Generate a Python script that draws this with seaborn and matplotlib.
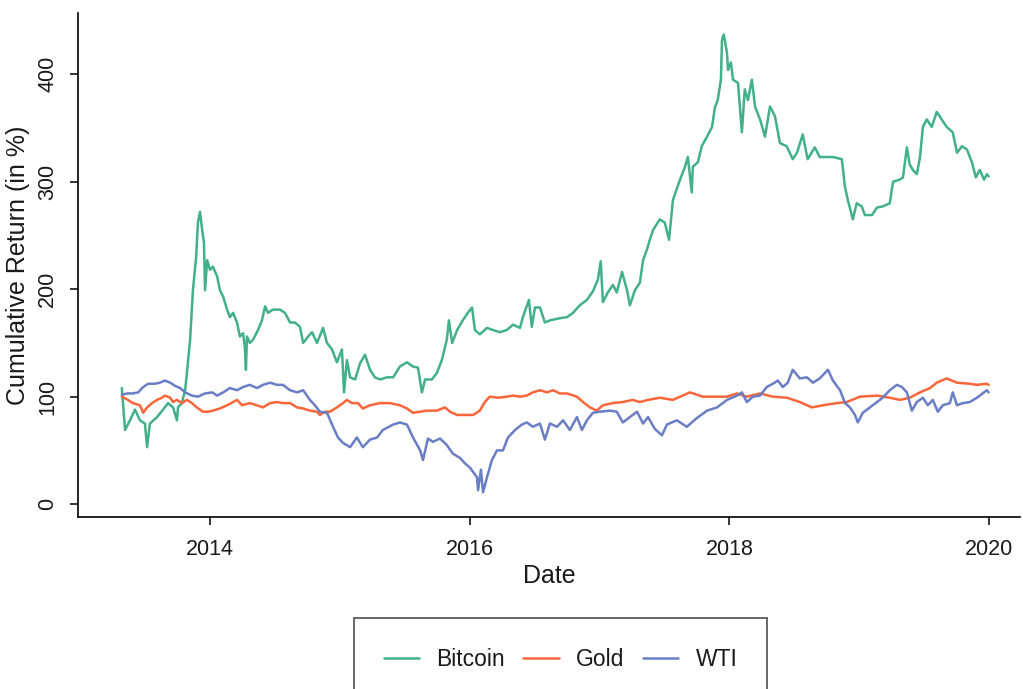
import pandas as pd
import numpy as np
import matplotlib
matplotlib.use("Agg")
import matplotlib.pyplot as plt
import matplotlib.dates as mdates
import seaborn as sns

# ── DATA ───────────────────────────────────────────────────────
btc = [
    ("2013-04-28", 108), ("2013-05-07", 69), ("2013-05-21", 78), ("2013-06-04", 88),
    ("2013-06-18", 78), ("2013-07-02", 75), ("2013-07-08", 53), ("2013-07-16", 75),
    ("2013-08-05", 81), ("2013-08-22", 88), ("2013-09-05", 94), ("2013-09-19", 90),
    ("2013-09-30", 78), ("2013-10-03", 90), ("2013-10-14", 94), ("2013-10-23", 106),
    ("2013-10-28", 122), ("2013-11-06", 153), ("2013-11-14", 199), ("2013-11-23", 230),
    ("2013-11-28", 262), ("2013-12-04", 272), ("2013-12-10", 255), ("2013-12-15", 243),
    ("2013-12-18", 199), ("2013-12-24", 227), ("2014-01-01", 218), ("2014-01-09", 221),
    ("2014-01-21", 212), ("2014-01-29", 199), ("2014-02-07", 193), ("2014-02-18", 181),
    ("2014-02-26", 174), ("2014-03-07", 178), ("2014-03-18", 169), ("2014-03-26", 156),
    ("2014-04-04", 159), ("2014-04-09", 146), ("2014-04-12", 125), ("2014-04-15", 156),
    ("2014-04-23", 150), ("2014-05-02", 153), ("2014-05-16", 162), ("2014-05-27", 171),
    ("2014-06-05", 184), ("2014-06-13", 178), ("2014-06-27", 181), ("2014-07-17", 181),
    ("2014-07-31", 178), ("2014-08-14", 169), ("2014-08-28", 169), ("2014-09-11", 165),
    ("2014-09-20", 150), ("2014-10-04", 156), ("2014-10-15", 160), ("2014-10-29", 150),
    ("2014-11-15", 164), ("2014-11-26", 150), ("2014-12-10", 144), ("2014-12-24", 132),
    ("2015-01-07", 144), ("2015-01-13", 104), ("2015-01-21", 134), ("2015-01-30", 118),
    ("2015-02-13", 116), ("2015-02-27", 131), ("2015-03-13", 139), ("2015-03-27", 125),
    ("2015-04-10", 118), ("2015-04-24", 116), ("2015-05-14", 118), ("2015-05-31", 118),
    ("2015-06-19", 128), ("2015-07-09", 132), ("2015-07-26", 128), ("2015-08-09", 127),
    ("2015-08-20", 104), ("2015-08-29", 116), ("2015-09-17", 116), ("2015-10-01", 122),
    ("2015-10-15", 134), ("2015-10-29", 153), ("2015-11-04", 171), ("2015-11-13", 150),
    ("2015-11-27", 162), ("2015-12-13", 171), ("2015-12-27", 178), ("2016-01-08", 183),
    ("2016-01-16", 162), ("2016-01-30", 158), ("2016-02-19", 164), ("2016-03-07", 162),
    ("2016-03-26", 160), ("2016-04-15", 162), ("2016-05-02", 167), ("2016-05-22", 164),
    ("2016-05-30", 174), ("2016-06-16", 190), ("2016-06-24", 165), ("2016-07-03", 183),
    ("2016-07-17", 183), ("2016-07-31", 169), ("2016-08-14", 171), ("2016-09-11", 173),
    ("2016-10-01", 174), ("2016-10-18", 178), ("2016-11-06", 185), ("2016-11-26", 190),
    ("2016-12-13", 198), ("2016-12-27", 209), ("2017-01-04", 226), ("2017-01-10", 188),
    ("2017-01-24", 197), ("2017-02-07", 204), ("2017-02-18", 197), ("2017-03-05", 216),
    ("2017-03-19", 199), ("2017-03-27", 185), ("2017-04-10", 199), ("2017-04-24", 206),
    ("2017-05-03", 227), ("2017-05-14", 237), ("2017-05-22", 246), ("2017-05-31", 255),
    ("2017-06-19", 265), ("2017-07-03", 262), ("2017-07-15", 246), ("2017-07-26", 283),
    ("2017-08-15", 302), ("2017-08-29", 314), ("2017-09-06", 323), ("2017-09-17", 290),
    ("2017-09-20", 314), ("2017-10-04", 318), ("2017-10-15", 333), ("2017-10-30", 342),
    ("2017-11-13", 351), ("2017-11-21", 369), ("2017-11-29", 376), ("2017-12-08", 395),
    ("2017-12-11", 432), ("2017-12-16", 437), ("2017-12-25", 420), ("2017-12-28", 404),
    ("2018-01-05", 411), ("2018-01-11", 395), ("2018-01-25", 392), ("2018-02-05", 346),
    ("2018-02-13", 386), ("2018-02-22", 376), ("2018-03-05", 395), ("2018-03-14", 370),
    ("2018-03-28", 358), ("2018-04-11", 342), ("2018-04-25", 370), ("2018-05-09", 361),
    ("2018-05-23", 336), ("2018-06-11", 333), ("2018-06-28", 321), ("2018-07-10", 327),
    ("2018-07-26", 344), ("2018-08-09", 321), ("2018-08-29", 332), ("2018-09-12", 323),
    ("2018-10-02", 323), ("2018-10-19", 323), ("2018-11-13", 321), ("2018-11-22", 295),
    ("2018-11-30", 283), ("2018-12-14", 265), ("2018-12-25", 280), ("2019-01-08", 277),
    ("2019-01-17", 269), ("2019-02-06", 269), ("2019-02-20", 276), ("2019-03-08", 277),
    ("2019-03-28", 280), ("2019-04-06", 300), ("2019-04-25", 302), ("2019-05-04", 304),
    ("2019-05-15", 332), ("2019-05-23", 316), ("2019-06-01", 311), ("2019-06-12", 307),
    ("2019-06-21", 323), ("2019-06-29", 351), ("2019-07-10", 358), ("2019-07-24", 351),
    ("2019-08-07", 365), ("2019-08-21", 358), ("2019-09-04", 351), ("2019-09-21", 346),
    ("2019-10-03", 327), ("2019-10-17", 333), ("2019-10-31", 330), ("2019-11-14", 318),
    ("2019-11-25", 304), ("2019-12-06", 311), ("2019-12-18", 302), ("2019-12-26", 307),
    ("2019-12-31", 305),
]

gold = [
    ("2013-04-28", 100), ("2013-05-15", 97), ("2013-05-29", 94), ("2013-06-18", 92),
    ("2013-06-27", 85), ("2013-07-08", 90), ("2013-07-22", 94), ("2013-08-05", 97),
    ("2013-08-19", 99), ("2013-08-27", 101), ("2013-09-11", 99), ("2013-09-19", 95),
    ("2013-09-30", 97), ("2013-10-14", 94), ("2013-10-28", 97), ("2013-11-11", 94),
    ("2013-11-25", 90), ("2013-12-12", 86), ("2013-12-26", 86), ("2014-01-09", 87),
    ("2014-01-29", 89), ("2014-02-18", 92), ("2014-03-07", 95), ("2014-03-18", 97),
    ("2014-04-01", 92), ("2014-04-23", 94), ("2014-05-13", 92), ("2014-05-30", 90),
    ("2014-06-19", 94), ("2014-07-08", 95), ("2014-07-25", 94), ("2014-08-14", 94),
    ("2014-09-03", 90), ("2014-09-20", 89), ("2014-10-09", 87), ("2014-10-29", 86),
    ("2014-11-06", 83), ("2014-11-20", 86), ("2014-12-04", 86), ("2014-12-24", 90),
    ("2015-01-10", 94), ("2015-01-21", 97), ("2015-02-04", 94), ("2015-02-21", 94),
    ("2015-03-07", 89), ("2015-03-27", 92), ("2015-04-24", 94), ("2015-05-22", 94),
    ("2015-06-19", 92), ("2015-07-09", 89), ("2015-07-26", 85), ("2015-08-15", 86),
    ("2015-09-03", 87), ("2015-10-01", 87), ("2015-10-24", 90), ("2015-11-07", 86),
    ("2015-11-27", 83), ("2015-12-19", 83), ("2016-01-11", 83), ("2016-01-30", 87),
    ("2016-02-13", 95), ("2016-02-27", 100), ("2016-03-21", 99), ("2016-04-15", 100),
    ("2016-05-02", 101), ("2016-05-22", 100), ("2016-06-10", 101), ("2016-06-27", 104),
    ("2016-07-17", 106), ("2016-08-06", 104), ("2016-08-23", 106), ("2016-09-11", 103),
    ("2016-10-01", 103), ("2016-10-29", 100), ("2016-11-15", 95), ("2016-12-05", 90),
    ("2016-12-24", 87), ("2017-01-10", 92), ("2017-02-07", 94), ("2017-03-07", 95),
    ("2017-04-04", 97), ("2017-04-24", 95), ("2017-05-17", 97), ("2017-06-19", 99),
    ("2017-07-26", 97), ("2017-09-12", 104), ("2017-10-18", 100), ("2017-11-27", 100),
    ("2017-12-25", 100), ("2018-01-22", 103), ("2018-02-19", 100), ("2018-03-28", 103),
    ("2018-05-03", 100), ("2018-06-12", 99), ("2018-07-18", 95), ("2018-08-21", 90),
    ("2018-09-21", 92), ("2018-10-30", 94), ("2018-11-27", 95), ("2019-01-03", 100),
    ("2019-02-20", 101), ("2019-03-28", 99), ("2019-04-25", 97), ("2019-05-23", 99),
    ("2019-06-21", 104), ("2019-07-19", 108), ("2019-08-07", 113), ("2019-09-04", 117),
    ("2019-10-03", 113), ("2019-11-08", 112), ("2019-11-28", 111), ("2019-12-26", 112),
    ("2019-12-31", 111),
]

wti = [
    ("2013-04-28", 102), ("2013-05-15", 103), ("2013-05-29", 103), ("2013-06-13", 104),
    ("2013-06-27", 109), ("2013-07-11", 112), ("2013-07-30", 112), ("2013-08-13", 113),
    ("2013-08-27", 115), ("2013-09-11", 113), ("2013-09-25", 110), ("2013-10-09", 108),
    ("2013-10-23", 104), ("2013-11-11", 101), ("2013-11-28", 100), ("2013-12-18", 103),
    ("2014-01-07", 104), ("2014-01-21", 101), ("2014-02-07", 104), ("2014-02-26", 108),
    ("2014-03-18", 106), ("2014-04-04", 109), ("2014-04-23", 111), ("2014-05-13", 108),
    ("2014-05-30", 111), ("2014-06-19", 113), ("2014-07-08", 111), ("2014-07-25", 111),
    ("2014-08-14", 106), ("2014-09-03", 104), ("2014-09-20", 106), ("2014-10-09", 97),
    ("2014-10-23", 92), ("2014-11-06", 86), ("2014-11-26", 85), ("2014-12-13", 72),
    ("2014-12-27", 62), ("2015-01-10", 57), ("2015-01-30", 53), ("2015-02-18", 62),
    ("2015-03-07", 53), ("2015-03-27", 60), ("2015-04-16", 62), ("2015-05-02", 69),
    ("2015-05-31", 74), ("2015-06-19", 76), ("2015-07-09", 74), ("2015-07-26", 62),
    ("2015-08-15", 50), ("2015-08-23", 41), ("2015-09-06", 61), ("2015-09-20", 58),
    ("2015-10-10", 61), ("2015-10-29", 55), ("2015-11-15", 47), ("2015-12-05", 43),
    ("2015-12-19", 38), ("2016-01-02", 34), ("2016-01-22", 25), ("2016-01-25", 13),
    ("2016-02-02", 32), ("2016-02-08", 11), ("2016-02-19", 25), ("2016-03-04", 41),
    ("2016-03-18", 50), ("2016-04-04", 50), ("2016-04-18", 62), ("2016-05-08", 69),
    ("2016-05-27", 74), ("2016-06-10", 76), ("2016-06-27", 72), ("2016-07-17", 75),
    ("2016-07-31", 60), ("2016-08-14", 75), ("2016-09-03", 72), ("2016-09-20", 78),
    ("2016-10-09", 69), ("2016-10-29", 81), ("2016-11-12", 69), ("2016-11-26", 78),
    ("2016-12-13", 85), ("2017-01-02", 86), ("2017-01-30", 87), ("2017-02-18", 86),
    ("2017-03-07", 76), ("2017-03-27", 81), ("2017-04-16", 86), ("2017-05-03", 75),
    ("2017-05-17", 81), ("2017-06-05", 70), ("2017-06-25", 64), ("2017-07-09", 74),
    ("2017-08-06", 78), ("2017-09-03", 72), ("2017-10-01", 80), ("2017-10-30", 87),
    ("2017-11-27", 90), ("2017-12-25", 97), ("2018-01-22", 101), ("2018-02-05", 104),
    ("2018-02-19", 95), ("2018-03-08", 100), ("2018-03-28", 101), ("2018-04-16", 109),
    ("2018-05-03", 112), ("2018-05-17", 115), ("2018-05-31", 109), ("2018-06-14", 113),
    ("2018-06-28", 125), ("2018-07-18", 117), ("2018-08-07", 118), ("2018-08-24", 113),
    ("2018-09-12", 117), ("2018-10-05", 125), ("2018-10-19", 115), ("2018-11-08", 106),
    ("2018-11-22", 94), ("2018-12-06", 90), ("2018-12-20", 83), ("2018-12-28", 76),
    ("2019-01-11", 85), ("2019-01-31", 90), ("2019-02-20", 95), ("2019-03-08", 99),
    ("2019-03-28", 106), ("2019-04-17", 111), ("2019-05-01", 109), ("2019-05-15", 104),
    ("2019-05-29", 87), ("2019-06-12", 95), ("2019-06-29", 99), ("2019-07-13", 92),
    ("2019-07-27", 97), ("2019-08-10", 86), ("2019-08-24", 92), ("2019-09-13", 94),
    ("2019-09-21", 104), ("2019-10-03", 92), ("2019-10-19", 94), ("2019-11-08", 95),
    ("2019-11-28", 99), ("2019-12-26", 106), ("2019-12-31", 104),
]

assets = ["Bitcoin", "Gold", "WTI"]
colors = ["#42b089", "#f8663a", "#6a7ec6"]
y_ticks = [0, 100, 200, 300, 400]

# ── LONG FORMAT ────────────────────────────────────────────────
frames = []
for name, series in zip(assets, [btc, gold, wti]):
    part = pd.DataFrame(series, columns=["Date", "Return"])
    part["Asset"] = name
    frames.append(part)
df = pd.concat(frames, ignore_index=True)
df["Date"] = pd.to_datetime(df["Date"])

# ── PLOT ───────────────────────────────────────────────────────
sns.set_theme(style="ticks")
plt.rcParams["font.family"] = ["Liberation Sans", "DejaVu Sans"]
text_col = "#1a1a1a"

fig = plt.figure(figsize=(10.23, 6.89), dpi=100)
ax = fig.add_axes([0.076, 0.2496, 0.921, 0.7315])

sns.lineplot(data=df, x="Date", y="Return", hue="Asset", hue_order=assets,
             palette=colors, linewidth=1.8, ax=ax, legend=False)

ax.set_xlim(pd.Timestamp("2012-12-25"), pd.Timestamp("2020-03-28"))
ax.set_ylim(-12, 457)
ax.set_yticks(y_ticks)
ax.xaxis.set_major_locator(mdates.YearLocator(2))
ax.xaxis.set_major_formatter(mdates.DateFormatter("%Y"))

for side in ["top", "right"]:
    ax.spines[side].set_visible(False)
for side in ["left", "bottom"]:
    ax.spines[side].set_linewidth(1.2)
    ax.spines[side].set_color("black")

ax.tick_params(axis="both", direction="out", length=6, width=1.1,
               color="black", labelsize=15.5, labelcolor=text_col)
ax.tick_params(axis="x", pad=10)
ax.tick_params(axis="y", pad=8)
for lab in ax.get_yticklabels():
    lab.set_rotation(90)
    lab.set_va("center")

ax.set_xlabel("Date", fontsize=18, color=text_col, labelpad=3)
ax.set_ylabel("Cumulative Return (in %)", fontsize=18, color=text_col, labelpad=5)

handles = [plt.Line2D([], [], color=c, linewidth=1.8) for c in colors]
leg = fig.legend(handles, assets, loc="upper center", ncol=3,
                 bbox_to_anchor=(0.548, 1 - 618 / 689),
                 frameon=True, fancybox=False, fontsize=16.5,
                 handlelength=1.55, handletextpad=0.75, columnspacing=0.8,
                 borderpad=1.3, borderaxespad=0)
leg.get_frame().set_edgecolor("#333333")
leg.get_frame().set_linewidth(1.3)
for t in leg.get_texts():
    t.set_color(text_col)

plt.savefig("out.png", dpi=100)
plt.close()
print("Saved: out.png")
